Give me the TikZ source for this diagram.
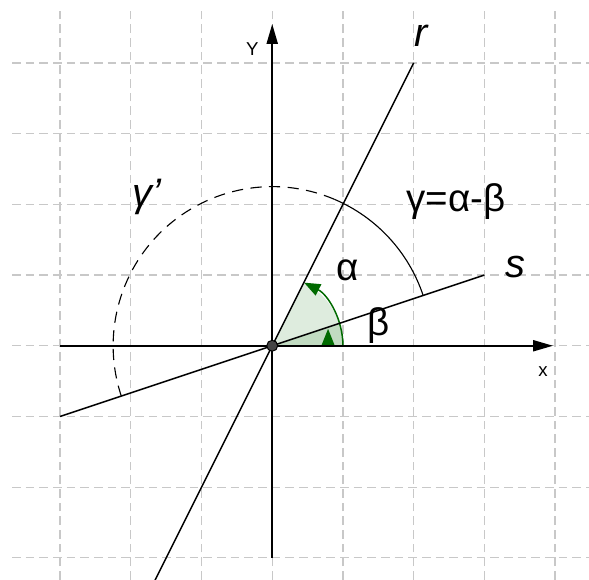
\documentclass[tikz,border=0pt]{standalone}
\usepackage{fontspec}
\setmainfont{Liberation Sans}
\usetikzlibrary{arrows.meta}
\definecolor{cGrid}{HTML}{C8C8C8}
\definecolor{cAng}{HTML}{006A00}
\definecolor{cDot}{HTML}{444444}
\tikzset{
  gridln/.style={cGrid, line width=0.5pt, dash pattern=on 3.5pt off 2pt},
  axis/.style={line width=0.6pt, -{Triangle[length=8pt, width=4.5pt]}},
  ln/.style={line width=0.6pt},
  arcln/.style={line width=0.45pt},
  sector/.style={fill=cAng, fill opacity=0.13},
  angarr/.style={cAng, line width=0.6pt, -{Triangle[length=6.5pt, width=5pt]}},
  axlbl/.style={font=\fontsize{7.5}{9}\selectfont, inner sep=1pt},
  biglbl/.style={font=\fontsize{15.5}{18}\selectfont, inner sep=1pt},
  itlbl/.style={font=\fontsize{16}{19}\selectfont\itshape, inner sep=1pt},
}
\begin{document}
\begin{tikzpicture}
  \useasboundingbox (-3.85,-3.31) rectangle (4.48,4.89);
  % grid
  \foreach \i in {-3,...,4} {
    \draw[gridln] (\i,-3.31) -- (\i,4.78);
    \draw[gridln] (-3.68,\i) -- (4.48,\i);
  }
  \coordinate (O) at (0,0);
  % angle sectors
  \fill[sector] (O) -- (1,0) arc (0:63.43:1) -- cycle;
  \fill[sector] (O) -- (1,0) arc (0:18.43:1) -- cycle;
  \draw[angarr] (1,0) arc (0:63.2:1);
  \draw[angarr] (0.79,0) -- (0.79,0.24);
  % axes
  \draw[axis] (-3,0) -- (3.97,0);
  \draw[axis] (0,-3) -- (0,4.55);
  \node[axlbl] (xl) at (3.83,-0.36) {x};
  \node[axlbl] (yl) at (-0.28,4.2) {Y};
  % lines r and s
  \coordinate (r1) at (2,4);
  \coordinate (r0) at (-1.7,-3.4);
  \coordinate (s1) at (3,1);
  \coordinate (s0) at (-3,-1);
  \draw[ln] (r0) -- (r1);
  \draw[ln] (s0) -- (s1);
  \node[itlbl] (rl) at (2.11,4.38) {r};
  \node[itlbl] (sl) at (3.44,1.12) {s};
  % arcs gamma and gamma'
  \draw[arcln] (18.43:2.25) arc (18.43:67:2.25);
  \draw[arcln, dash pattern=on 4.5pt off 3pt] (67:2.25) arc (67:198.43:2.25);
  \node[biglbl] (gl) at (2.6,2.04) {γ=α-β};
  \node[itlbl] (gpl) at (-1.77,2.1) {γ'};
  \node[biglbl] (al) at (1.07,1.06) {α};
  \node[biglbl] (bl) at (1.5,0.28) {β};
  % origin
  \fill[cDot, draw=black, line width=0.4pt] (O) circle (2.2pt);
\end{tikzpicture}
\end{document}
